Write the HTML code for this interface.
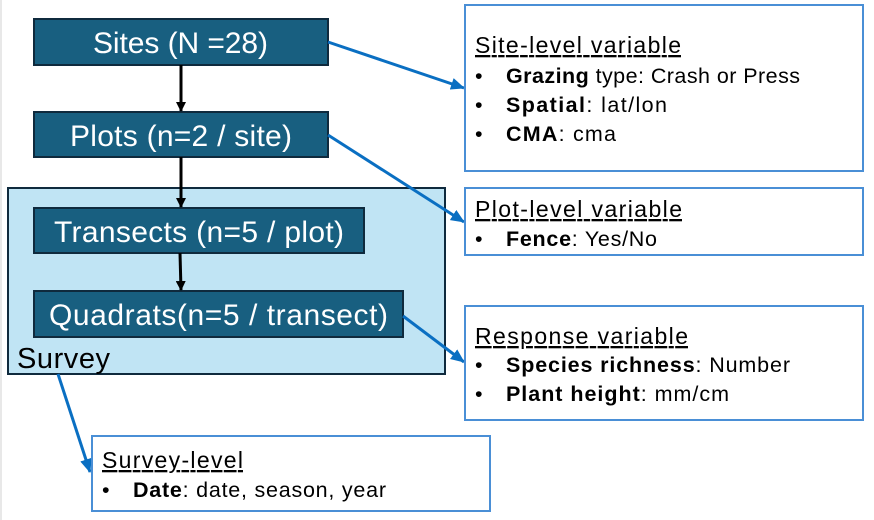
<!DOCTYPE html>
<html><head><meta charset="utf-8"><style>
html,body{margin:0;padding:0;background:#fff;}
svg{display:block;font-family:"Liberation Sans",sans-serif;}
.w{fill:#fff;font-size:30px;}
.h{font-size:23px;text-decoration:underline;}
.t{font-size:21.5px;}
</style></head><body>
<svg width="874" height="520" viewBox="0 0 874 520" xmlns="http://www.w3.org/2000/svg">
<defs>
<marker id="ab" markerWidth="10" markerHeight="10" refX="9" refY="5" orient="auto" markerUnits="userSpaceOnUse"><path d="M0,0 L10,5 L0,10 z" fill="#000"/></marker>
<marker id="ablue" markerWidth="14" markerHeight="12" refX="13" refY="6" orient="auto" markerUnits="userSpaceOnUse"><path d="M0,0 L14,6 L0,12 z" fill="#0a6fc2"/></marker>
</defs>
<line x1="1" y1="0" x2="1" y2="520" stroke="#d0d0d0" stroke-width="1"/>
<rect x="8" y="188" width="437" height="186" fill="#c0e4f4" stroke="#0f2a3d" stroke-width="2"/>
<text x="17" y="368" font-size="29" fill="#000" textLength="93">Survey</text>
<g fill="#185f80" stroke="#0f2a3d" stroke-width="2">
<rect x="34" y="19" width="294" height="46"/>
<rect x="34" y="112" width="294" height="45"/>
<rect x="34" y="208" width="330" height="45"/>
<rect x="34" y="291" width="369" height="46"/>
</g>
<text class="w" x="93" y="53" textLength="175">Sites (N =28)</text>
<text class="w" x="70" y="146" textLength="222">Plots (n=2 / site)</text>
<text class="w" x="54" y="242" textLength="290">Transects (n=5 / plot)</text>
<text class="w" x="49" y="325" textLength="339">Quadrats(n=5 / transect)</text>
<g stroke="#000" stroke-width="3">
<line x1="181" y1="65" x2="181" y2="111" marker-end="url(#ab)"/>
<line x1="181" y1="157" x2="181" y2="207" marker-end="url(#ab)"/>
<line x1="180" y1="253" x2="181" y2="290" marker-end="url(#ab)"/>
</g>
<g stroke="#0a6fc2" stroke-width="3">
<line x1="328" y1="42" x2="464" y2="88" marker-end="url(#ablue)"/>
<line x1="328" y1="135" x2="464" y2="222" marker-end="url(#ablue)"/>
<line x1="403" y1="316" x2="464" y2="362" marker-end="url(#ablue)"/>
<line x1="58" y1="374" x2="90" y2="472" marker-end="url(#ablue)"/>
</g>
<g fill="#fff" stroke="#4a8fd6" stroke-width="2">
<rect x="465" y="5" width="398" height="166"/>
<rect x="465" y="188" width="398" height="67"/>
<rect x="465" y="306" width="398" height="114"/>
<rect x="92" y="436" width="398" height="75"/>
</g>
<text class="h" x="475" y="53" textLength="206">Site-level variable</text>
<text class="t" x="475" y="83">•</text>
<text class="t" x="506" y="83" textLength="294"><tspan font-weight="bold">Grazing</tspan> type: Crash or Press</text>
<text class="t" x="475" y="112">•</text>
<text class="t" x="506" y="112" textLength="161"><tspan font-weight="bold">Spatial</tspan>:  lat/lon</text>
<text class="t" x="475" y="141">•</text>
<text class="t" x="506" y="141" textLength="110"><tspan font-weight="bold">CMA</tspan>: cma</text>
<text class="h" x="475" y="217" textLength="207">Plot-level variable</text>
<text class="t" x="475" y="246">•</text>
<text class="t" x="506" y="246" textLength="151"><tspan font-weight="bold">Fence</tspan>: Yes/No</text>
<text class="h" x="475" y="344" textLength="213">Response variable</text>
<text class="t" x="475" y="372">•</text>
<text class="t" x="506" y="372" textLength="284"><tspan font-weight="bold">Species richness</tspan>: Number</text>
<text class="t" x="475" y="401">•</text>
<text class="t" x="506" y="401" textLength="223"><tspan font-weight="bold">Plant height</tspan>: mm/cm</text>
<text class="h" x="102" y="468" textLength="141">Survey-level</text>
<text class="t" x="102" y="497">•</text>
<text class="t" x="133" y="497" textLength="253"><tspan font-weight="bold">Date</tspan>: date, season, year</text>
</svg>
</body></html>
